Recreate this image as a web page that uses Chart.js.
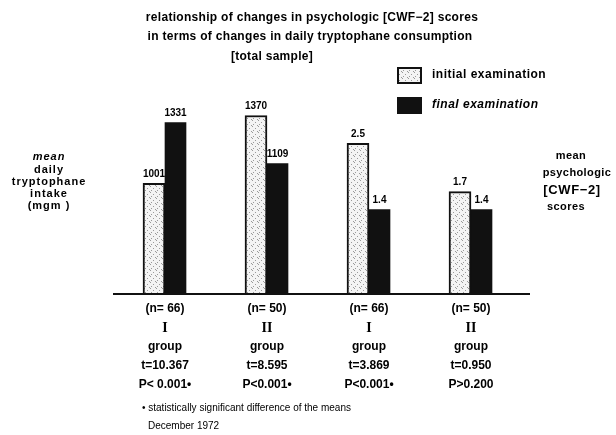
<!DOCTYPE html>
<html>
<head>
<meta charset="utf-8">
<script src="https://cdn.jsdelivr.net/npm/chart.js@4.4.0/dist/chart.umd.min.js"></script>
<style>
  html, body { margin: 0; padding: 0; background: #fff; }
  canvas { display: block; }
</style>
</head>
<body>
<canvas id="c" width="616" height="435"></canvas>
<script>
// ---- data ----
const sampleSizes = ['(n= 66)', '(n= 50)', '(n= 66)', '(n= 50)'];
const groupNumerals = ['I', 'II', 'I', 'II'];
const tValues = ['t=10.367', 't=8.595', 't=3.869', 't=0.950'];
const pValues = ['P< 0.001\u2022', 'P<0.001\u2022', 'P<0.001\u2022', 'P>0.200'];
const intakeInitial = [1001, 1370, null, null];   // mean daily tryptophane intake (mgm)
const intakeFinal   = [1331, 1109, null, null];
const scoreInitial  = [null, null, 2.5, 1.7];     // mean psychologic CWF-2 scores
const scoreFinal    = [null, null, 1.4, 1.4];
const titleLines = [
  'relationship of changes in psychologic [CWF\u22122] scores',
  'in terms of changes in daily tryptophane consumption',
  '[total sample]'
];
const legendLabels = ['initial examination', 'final examination'];
const leftAxisTitle = ['mean', 'daily', 'tryptophane', 'intake', '(mgm )'];
const rightAxisTitle = ['mean', 'psychologic', '[CWF\u22122]', 'scores'];
const footnotes = ['\u2022 statistically significant difference of the means', 'December 1972'];

// ---- stipple pattern for initial bars ----
function makeStipple() {
  const p = document.createElement('canvas');
  p.width = 6; p.height = 6;
  const g = p.getContext('2d');
  g.fillStyle = '#f4f4f4';
  g.fillRect(0, 0, 6, 6);
  g.fillStyle = '#9a9a9a';
  [[0,0],[3,2],[1,4],[5,5]].forEach(([x,y]) => g.fillRect(x, y, 1, 1));
  return g.createPattern(p, 'repeat');
}
const stipple = makeStipple();

const FONT = '"Liberation Sans", Arial, sans-serif';
const SERIF = '"Liberation Serif", "Times New Roman", serif';

const labels = sampleSizes.map((s, i) => [s, '', 'group', tValues[i], pValues[i]]);

function spaced(ctx, sp) { if ('letterSpacing' in ctx) ctx.letterSpacing = sp; }

const textPlugin = {
  id: 'textPlugin',
  afterDatasetsDraw(chart) {
    const ctx = chart.ctx;
    ctx.save();
    ctx.fillStyle = '#000';
    ctx.textBaseline = 'middle';
    ctx.textAlign = 'center';
    ctx.font = 'bold 10px ' + FONT;
    chart.data.datasets.forEach((ds, di) => {
      const meta = chart.getDatasetMeta(di);
      meta.data.forEach((el, i) => {
        const v = ds.data[i];
        if (v === null || v === undefined) return;
        const txt = ds.yAxisID === 'y1' ? v.toFixed(1) : String(v);
        ctx.fillText(txt, el.x, el.y - 9);
      });
    });
    ctx.restore();
  },
  afterDraw(chart) {
    const ctx = chart.ctx;
    const xs = chart.scales.x;
    ctx.save();
    // baseline
    ctx.strokeStyle = '#111';
    ctx.lineWidth = 2;
    ctx.beginPath();
    ctx.moveTo(113, xs.top);
    ctx.lineTo(530, xs.top);
    ctx.stroke();

    ctx.fillStyle = '#000';
    ctx.textBaseline = 'middle';
    // group numerals
    ctx.textAlign = 'center';
    ctx.font = 'bold 14px ' + SERIF;
    groupNumerals.forEach((n, i) => ctx.fillText(n, xs.getPixelForValue(i), 328));
    // title
    ctx.font = 'bold 12px ' + FONT;
    spaced(ctx, '0.3px');
    ctx.fillText(titleLines[0], 312, 18);
    ctx.fillText(titleLines[1], 310, 37);
    ctx.fillText(titleLines[2], 272, 57);
    // legend
    ctx.textAlign = 'left';
    ctx.fillStyle = stipple;
    ctx.fillRect(398, 68, 23, 15);
    ctx.strokeStyle = '#111';
    ctx.lineWidth = 2;
    ctx.strokeRect(398, 68, 23, 15);
    ctx.fillStyle = '#111';
    ctx.fillRect(397, 97, 25, 17);
    ctx.fillStyle = '#000';
    spaced(ctx, '0.5px');
    ctx.font = 'bold 12px ' + FONT;
    ctx.fillText(legendLabels[0], 432, 75);
    ctx.font = 'italic bold 12px ' + FONT;
    ctx.fillText(legendLabels[1], 432, 105);
    // left axis title
    ctx.textAlign = 'center';
    spaced(ctx, '1px');
    const ly = [157, 170, 182, 194, 206];
    leftAxisTitle.forEach((t, i) => {
      ctx.font = (i === 0 ? 'italic ' : '') + 'bold 11px ' + FONT;
      ctx.fillText(t, 49, ly[i]);
    });
    // right axis title
    spaced(ctx, '0.4px');
    ctx.font = 'bold 11px ' + FONT;
    ctx.fillText(rightAxisTitle[0], 571, 156);
    ctx.fillText(rightAxisTitle[1], 577, 173);
    ctx.font = 'bold 13px ' + FONT;
    spaced(ctx, '0.6px');
    ctx.fillText(rightAxisTitle[2], 572, 190);
    ctx.font = 'bold 11px ' + FONT;
    spaced(ctx, '0.4px');
    ctx.fillText(rightAxisTitle[3], 566, 207);
    // footnotes
    ctx.textAlign = 'left';
    spaced(ctx, '0px');
    ctx.font = '10px ' + FONT;
    ctx.fillText(footnotes[0], 142, 408);
    ctx.fillText(footnotes[1], 148, 426);
    ctx.restore();
  }
};

new Chart(document.getElementById('c'), {
  type: 'bar',
  data: {
    labels: labels,
    datasets: [
      { label: legendLabels[0], data: intakeInitial, yAxisID: 'y', stack: 'init',
        backgroundColor: stipple, borderColor: '#111', borderWidth: 2, barThickness: 22 },
      { label: legendLabels[1], data: intakeFinal, yAxisID: 'y', stack: 'fin',
        backgroundColor: '#111', borderColor: '#111', borderWidth: 0, barThickness: 21 },
      { label: legendLabels[0], data: scoreInitial, yAxisID: 'y1', stack: 'init',
        backgroundColor: stipple, borderColor: '#111', borderWidth: 2, barThickness: 22 },
      { label: legendLabels[1], data: scoreFinal, yAxisID: 'y1', stack: 'fin',
        backgroundColor: '#111', borderColor: '#111', borderWidth: 0, barThickness: 21 }
    ]
  },
  options: {
    responsive: false,
    animation: false,
    devicePixelRatio: 1,
    layout: { padding: { left: 114, right: 94, top: 100, bottom: 0 } },
    plugins: { legend: { display: false }, title: { display: false }, tooltip: { enabled: false } },
    scales: {
      x: {
        grid: { display: false, drawTicks: false },
        border: { display: false },
        ticks: { color: '#000', padding: 5, maxRotation: 0, autoSkip: false,
                 font: { family: FONT, size: 12, weight: 'bold', lineHeight: '19px' } },
        afterFit(scale) { scale.height = 141; }
      },
      y: { display: false, stacked: false, min: 400, max: 1454 },
      y1: { display: false, stacked: false, position: 'right', min: 0, max: 3.22 }
    }
  },
  plugins: [textPlugin]
});
</script>
</body>
</html>
